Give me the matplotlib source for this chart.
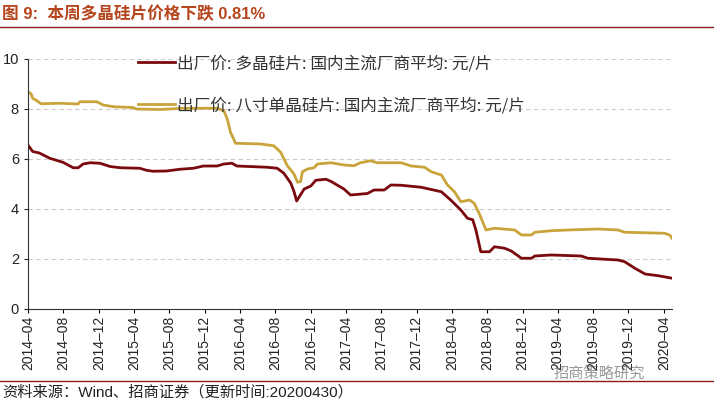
import numpy as np
import pandas as pd
import matplotlib
matplotlib.use('Agg')
import matplotlib.pyplot as plt

plt.rcParams['font.family'] = ['Liberation Sans', 'Noto Sans CJK SC', 'DejaVu Sans']

# 出厂价: 多晶硅片 (元/片)
poly_dates = ['2014-04-01', '2014-04-17', '2014-05-10', '2014-06-15', '2014-07-30', '2014-09-04',
              '2014-09-21', '2014-10-08', '2014-11-01', '2014-12-05', '2015-01-09', '2015-02-13',
              '2015-04-21', '2015-05-14', '2015-06-06', '2015-07-22', '2015-09-07', '2015-10-23',
              '2015-11-27', '2016-01-13', '2016-02-05', '2016-03-04', '2016-03-21', '2016-07-03',
              '2016-08-07', '2016-08-30', '2016-09-23', '2016-10-04', '2016-10-13', '2016-11-08',
              '2016-12-01', '2016-12-18', '2017-01-22', '2017-02-09', '2017-03-25', '2017-04-17',
              '2017-06-14', '2017-07-07', '2017-08-11', '2017-09-03', '2017-10-08', '2017-12-16',
              '2018-02-24', '2018-03-28', '2018-05-02', '2018-05-25', '2018-06-12', '2018-06-23',
              '2018-07-10', '2018-08-09', '2018-08-26', '2018-09-30', '2018-10-23', '2018-11-27',
              '2019-01-01', '2019-01-12', '2019-03-09', '2019-06-21', '2019-07-14', '2019-09-10',
              '2019-10-26', '2019-11-18', '2019-12-23', '2020-01-27', '2020-03-13', '2020-04-11',
              '2020-04-29']
poly_price = [6.56, 6.30, 6.24, 6.03, 5.87, 5.65,
              5.65, 5.80, 5.85, 5.83, 5.70, 5.65,
              5.63, 5.55, 5.51, 5.52, 5.59, 5.63,
              5.72, 5.72, 5.80, 5.83, 5.72, 5.67,
              5.63, 5.43, 5.03, 4.70, 4.32, 4.80,
              4.92, 5.15, 5.19, 5.10, 4.80, 4.56,
              4.62, 4.76, 4.76, 4.96, 4.95, 4.87,
              4.69, 4.36, 3.96, 3.63, 3.57, 3.16,
              2.29, 2.29, 2.49, 2.43, 2.32, 2.03,
              2.03, 2.12, 2.16, 2.12, 2.03, 1.99,
              1.96, 1.89, 1.63, 1.40, 1.33, 1.27,
              1.23]

# 出厂价: 八寸单晶硅片 (元/片)
mono_dates = ['2014-04-01', '2014-04-12', '2014-04-17', '2014-04-29', '2014-05-16', '2014-07-19',
              '2014-09-21', '2014-09-27', '2014-11-24', '2014-12-16', '2015-01-21', '2015-03-29',
              '2015-04-10', '2015-06-30', '2015-09-19', '2016-01-13', '2016-02-05', '2016-02-17',
              '2016-02-28', '2016-03-10', '2016-03-16', '2016-06-11', '2016-07-26', '2016-08-19',
              '2016-09-11', '2016-10-04', '2016-10-16', '2016-10-27', '2016-11-02', '2016-11-20',
              '2016-12-12', '2016-12-24', '2017-02-09', '2017-03-25', '2017-04-29', '2017-05-21',
              '2017-06-25', '2017-07-18', '2017-10-08', '2017-11-12', '2017-12-28', '2018-01-20',
              '2018-02-24', '2018-03-17', '2018-04-10', '2018-05-02', '2018-06-01', '2018-06-17',
              '2018-07-04', '2018-07-28', '2018-08-26', '2018-11-04', '2018-11-27', '2019-01-01',
              '2019-01-12', '2019-03-09', '2019-05-06', '2019-08-18', '2019-10-26', '2019-11-18',
              '2020-04-03', '2020-04-21', '2020-04-29']
mono_price = [8.69, 8.60, 8.43, 8.35, 8.21, 8.23,
              8.20, 8.29, 8.29, 8.16, 8.09, 8.06,
              8.00, 7.98, 8.03, 8.03, 7.93, 7.60,
              7.07, 6.80, 6.63, 6.60, 6.53, 6.27,
              5.73, 5.40, 5.07, 5.10, 5.49, 5.60,
              5.65, 5.80, 5.85, 5.76, 5.73, 5.85,
              5.93, 5.85, 5.85, 5.72, 5.67, 5.49,
              5.36, 4.96, 4.69, 4.29, 4.36, 4.23,
              3.83, 3.16, 3.23, 3.16, 2.96, 2.96,
              3.07, 3.13, 3.16, 3.20, 3.16, 3.07,
              3.03, 2.96, 2.83]

labels = ['出厂价: 多晶硅片: 国内主流厂商平均: 元/片',
          '出厂价: 八寸单晶硅片: 国内主流厂商平均: 元/片']

fig = plt.figure(figsize=(7.14, 4.03), dpi=100)
ax = fig.add_axes([28 / 714, 1 - 309 / 403, 644 / 714, 250 / 403])

ax.plot(pd.to_datetime(poly_dates), poly_price, color='#7A0A0E', lw=2.0, label=labels[0])
ax.plot(pd.to_datetime(mono_dates), mono_price, color='#C9A43A', lw=2.0, label=labels[1])

ax.set_ylim(0, 10)
ax.set_yticks(np.arange(0, 11, 2))
ax.set_xlim(pd.Timestamp('2014-04-01'), pd.Timestamp('2020-04-29'))
ticks = pd.date_range('2014-04-01', '2020-04-01', freq='4MS')
ax.set_xticks(ticks)
ax.set_xticklabels([t.strftime('%Y\u2013%m') for t in ticks], rotation=90, fontsize=10, color='#222222')
ax.tick_params(axis='y', labelsize=10.5, colors='#222222', length=3)
ax.tick_params(axis='x', length=3, pad=2)
ax.grid(axis='y', linestyle=(0, (4, 3)), color='#CCCCCC', lw=0.8)
ax.set_axisbelow(True)
for s in ['top', 'right']:
    ax.spines[s].set_visible(False)
for s in ['left', 'bottom']:
    ax.spines[s].set_color('#333333')

leg = ax.legend(loc='upper left', bbox_to_anchor=(0.148, 1.075), frameon=False,
                labelspacing=1.5, handlelength=2.2, handletextpad=0.15,
                prop={'family': ['Noto Sans CJK SC', 'DejaVu Sans'], 'size': 12})
for t in leg.get_texts():
    t.set_color('#333333')

# title and frame lines
fig.text(0.003, 1 - 14 / 403, '图 9:  本周多晶硅片价格下跌 0.81%', fontsize=12, fontweight='bold',
         color='#B5461E', va='center', family=['Liberation Sans', 'Noto Sans CJK SC'])
fig.add_artist(plt.Line2D([0, 1], [1 - 27 / 403, 1 - 27 / 403], color='#8B1A1A', lw=1.0))
fig.add_artist(plt.Line2D([0, 1], [1 - 381 / 403, 1 - 381 / 403], color='#8B1A1A', lw=1.0))
fig.text(0.003, 1 - 392 / 403, '资料来源：Wind、招商证券（更新时间:20200430）', fontsize=11,
         color='#222222', va='center')
fig.text(0.84, 1 - 373 / 403, '招商策略研究', fontsize=11, color='#555555', alpha=0.6,
         va='center', ha='center')

fig.savefig('out.png', dpi=100)
